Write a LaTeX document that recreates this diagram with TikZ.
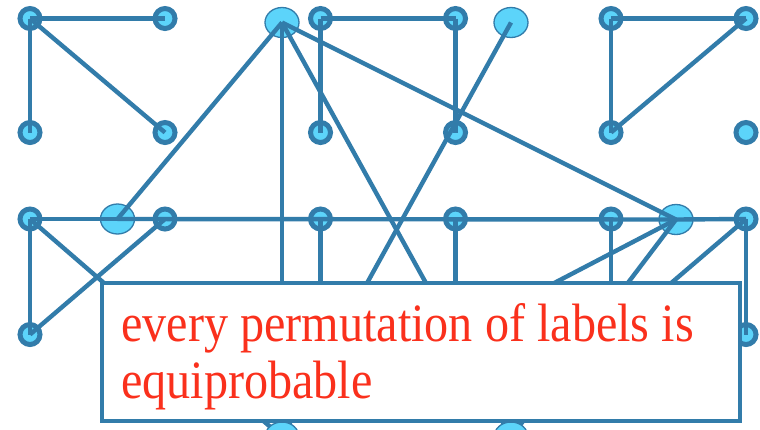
\documentclass[tikz,border=0pt]{standalone}
\usepackage{fontspec}
\setmainfont{Liberation Serif}
\usetikzlibrary{shapes.geometric}
\definecolor{edgeblue}{RGB}{50,124,170}
\definecolor{nodefill}{RGB}{92,212,250}
\definecolor{notered}{RGB}{250,48,28}
\begin{document}
\begin{tikzpicture}[x=1pt,y=-1pt,
  vtx/.style={circle,draw=edgeblue,fill=nodefill,line width=5pt,minimum size=20pt,inner sep=0pt},
  hub/.style={ellipse,draw=edgeblue,fill=nodefill,line width=1.3pt,minimum width=34pt,minimum height=30pt,inner sep=0pt},
  link/.style={draw=edgeblue,line width=4.4pt},
  notebox/.style={draw=edgeblue,fill=white,line width=4.8pt,minimum width=638pt,minimum height=138pt,inner sep=0pt},
  notetext/.style={text=notered,font=\fontsize{54}{57}\selectfont,inner sep=0pt,anchor=base west}]
\clip (0,0) rectangle (760,429);
\fill[white] (0,0) rectangle (760,429);

% small vertices, row by row
\foreach \n/\x in {a/30,b/165,c/320.5,d/455.5,e/611,f/746}{
  \node[vtx] (\n1) at (\x,18.5) {};
  \node[vtx] (\n2) at (\x,132.5) {};
  \node[vtx] (\n3) at (\x,219) {};
}
\node[vtx] (a4) at (30,334.5) {};
\node[vtx] (f4) at (746,334.5) {};
\coordinate (c4) at (320.5,334.5);
\coordinate (d4) at (455.5,334.5);
\coordinate (e4) at (611,334.5);

% larger hub vertices (upper ones sit under their edges)
\node[hub] (A) at (282,22.5) {};
\node[hub] (B) at (511,22.5) {};
\node[hub] (C) at (117.5,219) {};
\node[hub] (D) at (676,219.5) {};
\coordinate (Ec) at (282,437);
\coordinate (Fc) at (511,437);

% edges
\draw[link] (a1.center) -- (b1.center);
\draw[link] (a1.center) -- (a2.center);
\draw[link] (a1.center) -- (b2.center);
\draw[link] (c1.center) -- (d1.center);
\draw[link] (c1.center) -- (c2.center);
\draw[link] (d1.center) -- (d2.center);
\draw[link] (e1.center) -- (f1.center);
\draw[link] (e1.center) -- (e2.center);
\draw[link] (f1.center) -- (e2.center);
\draw[link] (A.center) -- (C.center);
\draw[link] (A.center) -- (Ec);
\draw[link] (A.center) -- (Fc);
\draw[link] (A.center) -- (D.center);
\draw[link] (B.center) -- (Ec);
\draw[link] (a3.center) -- (b3.center);
\draw[link] (C.center) -- (D.center);
\draw[link] (D.center) -- (f3.center);
\draw[link] (a3.center) -- (a4.center);
\draw[link] (a3.center) -- (Ec);
\draw[link] (b3.center) -- (a4.center);
\draw[link] (c3.center) -- (c4);
\draw[link] (d3.center) -- (d4);
\draw[link] (e3.center) -- (e4);
\draw[link] (D.center) -- (d4);
\draw[link] (D.center) -- (Fc);
\draw[link] (f3.center) -- (f4.center);
\draw[link] (f3.center) -- (e4);

% lower hubs cover the ends of their edges
\node[hub] (E) at (Ec) {};
\node[hub] (F) at (Fc) {};

% annotation box
\node[notebox] (note) at (421,352) {};
\node[notetext] (line1) at (121,341.5) {\scalebox{0.892}[1]{every permutation of labels is}};
\node[notetext] (line2) at (121,398) {\scalebox{0.892}[1]{equiprobable}};
\end{tikzpicture}
\end{document}
